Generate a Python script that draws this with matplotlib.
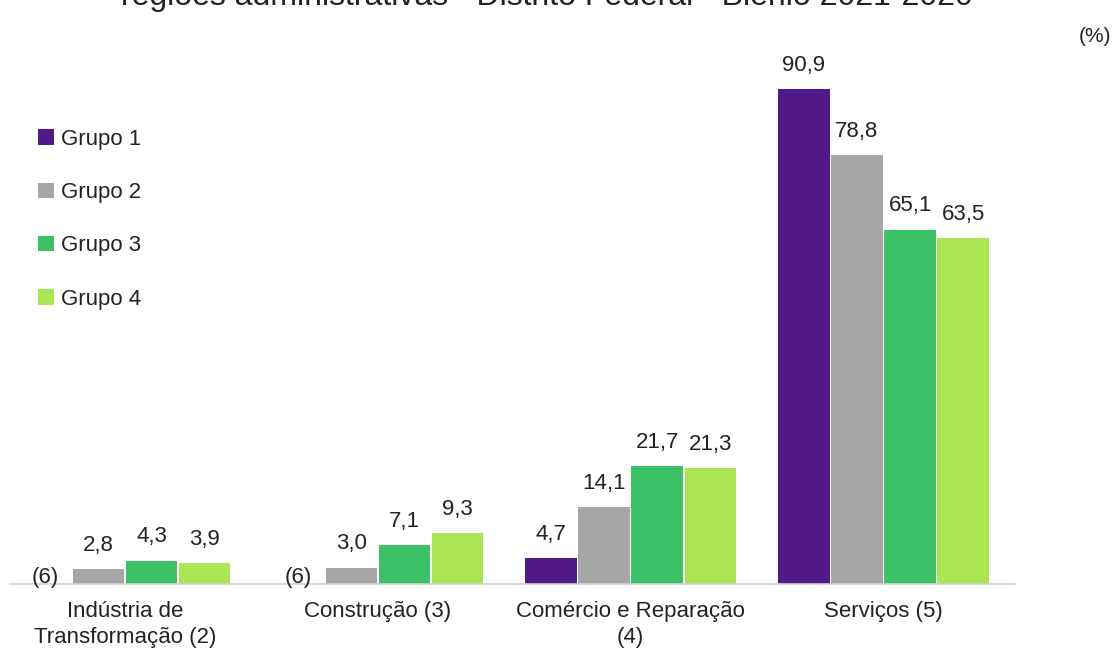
import matplotlib
matplotlib.use("Agg")
import matplotlib.pyplot as plt
import numpy as np

plt.rcParams['font.family'] = ['Liberation Sans', 'DejaVu Sans']

categories = ["Indústria de\nTransformação (2)", "Construção (3)", "Comércio e Reparação\n(4)", "Serviços (5)"]
groups = ["Grupo 1", "Grupo 2", "Grupo 3", "Grupo 4"]
grupo1 = [np.nan, np.nan, 4.7, 90.9]
grupo2 = [2.8, 3.0, 14.1, 78.8]
grupo3 = [4.3, 7.1, 21.7, 65.1]
grupo4 = [3.9, 9.3, 21.3, 63.5]
series = [grupo1, grupo2, grupo3, grupo4]
missing_label = "(6)"
colors = ["#511a88", "#a6a6a6", "#3cc167", "#aae553"]
txt = "#222222"

W, H = 1117, 656
fig = plt.figure(figsize=(W / 100, H / 100), dpi=100)
ax = fig.add_axes([10 / W, 72 / H, 1005 / W, (584 - 39.5) / H])

x = np.arange(len(categories))
bw = 0.21
for i, (vals, col, name) in enumerate(zip(series, colors, groups)):
    pos = x + (i - 1.5) * bw
    v = np.array(vals, dtype=float)
    ax.bar(pos, np.nan_to_num(v), width=bw * 0.97, color=col, label=name, linewidth=0)
    for p, val in zip(pos, v):
        if np.isnan(val):
            ax.annotate(missing_label, (p, 0), xytext=(0, 5), textcoords="offset points",
                        ha="center", va="center", fontsize=16, color=txt)
        else:
            ax.annotate(f"{val:.1f}".replace(".", ","), (p, val), xytext=(0, 9.5),
                        textcoords="offset points", ha="center", va="bottom",
                        fontsize=16, color=txt)

ax.set_xlim(-0.455, 3.52)
ax.set_ylim(0, 100)
ax.set_xticks(x)
ax.set_xticklabels(categories, fontsize=16, color=txt, linespacing=1.35)
ax.tick_params(axis="x", length=0, pad=12)
ax.set_yticks([])
for s in ["top", "right", "left"]:
    ax.spines[s].set_visible(False)
ax.spines["bottom"].set_color("#d0d0d0")
ax.spines["bottom"].set_linewidth(1.2)

leg = ax.legend(loc="upper left", bbox_to_anchor=(38 / W, 1 - 129 / H), bbox_transform=fig.transFigure,
                frameon=False, fontsize=16, handlelength=0.7, handleheight=0.7,
                handletextpad=0.35, labelspacing=1.45, borderpad=0, borderaxespad=0)
for t in leg.get_texts():
    t.set_color(txt)

fig.text(1095 / W, 1 - 37 / H, "(%)", ha="center", va="center", fontsize=15, color=txt)
fig.text(547 / W, 1 - 5 / H, "regiões administrativas - Distrito Federal - Biênio 2021-2020",
         ha="center", va="baseline", fontsize=23, color=txt)

fig.savefig("out.png", dpi=100, facecolor="white")
